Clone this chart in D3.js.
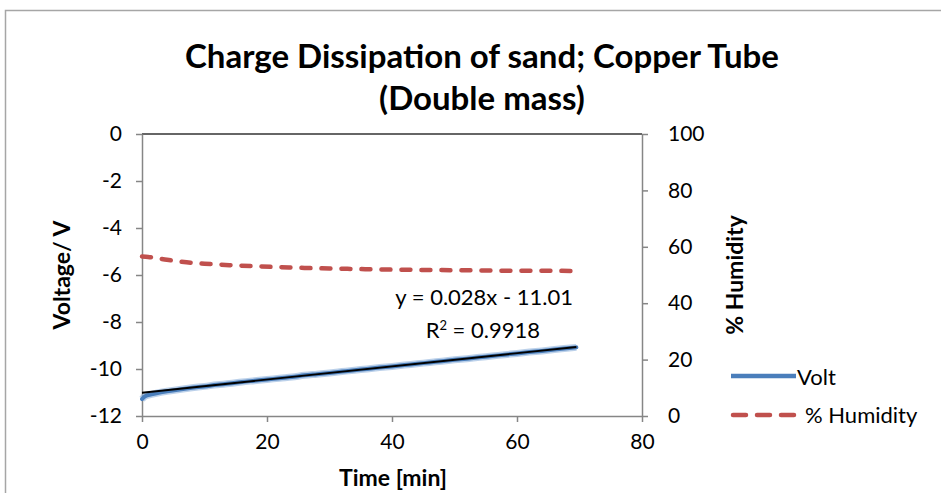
<!DOCTYPE html>
<html>
<head>
<meta charset="utf-8">
<script src="https://cdn.jsdelivr.net/npm/d3@7"></script>
<style>
  html, body { margin: 0; padding: 0; background: #fff; }
  svg { display: block; font-family: Lato, "Open Sans", sans-serif; }
</style>
</head>
<body>
<svg id="chart" width="941" height="493"></svg>
<script>
// Time axis (minutes)
const voltTime = [0, 0.5, 1.5, 2.5, 4, 6, 8, 10, 12, 14, 16, 18, 20, 22, 24, 26, 28, 30, 32, 34, 36, 38, 40, 42, 44, 46, 48, 50, 52, 54, 56, 58, 60, 62, 64, 66, 68, 69.5];
// Measured voltage (V)
const voltValues = [-11.28, -11.16, -11.08, -11.02, -10.95, -10.87, -10.80, -10.74, -10.67, -10.62, -10.55, -10.50, -10.45, -10.39, -10.34, -10.27, -10.22, -10.17, -10.11, -10.05, -10.00, -9.94, -9.89, -9.83, -9.78, -9.72, -9.67, -9.61, -9.56, -9.50, -9.45, -9.39, -9.34, -9.28, -9.23, -9.17, -9.12, -9.08];
// Relative humidity (%)
const humTime = [0, 1, 2, 4, 6, 8, 10, 14, 18, 22, 26, 30, 35, 40, 45, 50, 55, 60, 65, 69.5];
const humValues = [56.6, 56.4, 56.1, 55.4, 54.8, 54.3, 54.0, 53.5, 53.1, 52.8, 52.5, 52.3, 52.1, 51.9, 51.8, 51.7, 51.6, 51.5, 51.5, 51.4];
// Linear trendline of the voltage series
const trendSlope = 0.028;
const trendIntercept = -11.01;
const trendRange = [0, 69.5];
// Tick labels
const xTicks = [0, 20, 40, 60, 80];
const yLeftTicks = [0, -2, -4, -6, -8, -10, -12];
const yRightTicks = [0, 20, 40, 60, 80, 100];

const svg = d3.select("#chart");
const plot = { left: 142, right: 642, top: 134, bottom: 416 };

const x = d3.scaleLinear().domain([0, 80]).range([plot.left, plot.right]);
const yL = d3.scaleLinear().domain([-12, 0]).range([plot.bottom, plot.top]);
const yR = d3.scaleLinear().domain([0, 100]).range([plot.bottom, plot.top]);

// Chart area frame
svg.append("path")
  .attr("d", "M5.5,493 L5.5,10.5 L941,10.5")
  .attr("fill", "none").attr("stroke", "#a6a6a6").attr("stroke-width", 1.5);

const axisColor = "#868686";
const tickFont = 21;

// Top border of the plot area
svg.append("line")
  .attr("x1", plot.left).attr("x2", plot.right)
  .attr("y1", plot.top).attr("y2", plot.top)
  .attr("stroke", "#333").attr("stroke-width", 1.5);

function styleAxis(g) {
  g.select(".domain").attr("stroke", axisColor).attr("stroke-width", 1.5);
  g.selectAll(".tick line").attr("stroke", axisColor).attr("stroke-width", 1.5);
  g.selectAll(".tick text").attr("fill", "#000").attr("font-size", tickFont)
    .attr("font-family", "Lato, 'Open Sans', sans-serif");
}

// Bottom axis
svg.append("g")
  .attr("transform", `translate(0,${plot.bottom})`)
  .call(d3.axisBottom(x).tickValues(xTicks).tickSize(6).tickSizeOuter(0).tickPadding(12))
  .call(styleAxis);

// Left axis
svg.append("g")
  .attr("transform", `translate(${plot.left},0)`)
  .call(d3.axisLeft(yL).tickValues(yLeftTicks).tickSize(6).tickSizeOuter(0).tickPadding(14)
    .tickFormat(d => d === 0 ? "0" : d3.format("d")(d).replace("−", "-")))
  .call(styleAxis);

// Right axis
svg.append("g")
  .attr("transform", `translate(${plot.right},0)`)
  .call(d3.axisRight(yR).tickValues(yRightTicks).tickSize(6).tickSizeOuter(0).tickPadding(20))
  .call(styleAxis);

// Humidity series (dashed, right axis)
const humData = humTime.map((t, i) => [t, humValues[i]]);
svg.append("path")
  .datum(humData)
  .attr("fill", "none")
  .attr("stroke", "#c0504d")
  .attr("stroke-width", 4.5)
  .attr("stroke-linecap", "round")
  .attr("stroke-dasharray", "9,11")
  .attr("d", d3.line().x(d => x(d[0])).y(d => yR(d[1])).curve(d3.curveMonotoneX));

// Voltage series (left axis)
const voltData = voltTime.map((t, i) => [t, voltValues[i]]);
const voltLine = d3.line().x(d => x(d[0])).y(d => yL(d[1])).curve(d3.curveMonotoneX);
svg.append("path")
  .datum(voltData)
  .attr("fill", "none")
  .attr("stroke", "#8fb3dc")
  .attr("stroke-width", 7)
  .attr("opacity", 0.6)
  .attr("d", voltLine);
svg.append("path")
  .datum(voltData)
  .attr("fill", "none")
  .attr("stroke", "#4a7ebb")
  .attr("stroke-width", 4)
  .attr("stroke-linecap", "round")
  .attr("d", voltLine);

// Trendline
svg.append("line")
  .attr("x1", x(trendRange[0])).attr("y1", yL(trendSlope * trendRange[0] + trendIntercept))
  .attr("x2", x(trendRange[1])).attr("y2", yL(trendSlope * trendRange[1] + trendIntercept))
  .attr("stroke", "#000").attr("stroke-width", 1.8);

// Trendline label
svg.append("text")
  .attr("x", 573).attr("y", 305).attr("text-anchor", "end")
  .attr("font-size", 22).text(`y = ${trendSlope}x - ${Math.abs(trendIntercept)}`);
const r2 = svg.append("text")
  .attr("x", 540).attr("y", 338).attr("text-anchor", "end")
  .attr("font-size", 22);
r2.append("tspan").text("R");
r2.append("tspan").attr("font-size", 13).attr("dy", -8).text("2");
r2.append("tspan").attr("dy", 8).text(" = 0.9918");

// Title
svg.append("text")
  .attr("x", 482).attr("y", 68).attr("text-anchor", "middle")
  .attr("font-size", 33).attr("font-weight", "bold")
  .text("Charge Dissipation of sand; Copper Tube");
svg.append("text")
  .attr("x", 482).attr("y", 110).attr("text-anchor", "middle")
  .attr("font-size", 33).attr("font-weight", "bold")
  .text("(Double mass)");

// Axis titles
svg.append("text")
  .attr("transform", `translate(70,${(plot.top + plot.bottom) / 2}) rotate(-90)`)
  .attr("text-anchor", "middle").attr("font-size", 23).attr("font-weight", "bold")
  .text("Voltage/ V");
svg.append("text")
  .attr("transform", `translate(743,${(plot.top + plot.bottom) / 2}) rotate(-90)`)
  .attr("text-anchor", "middle").attr("font-size", 23).attr("font-weight", "bold")
  .text("% Humidity");
svg.append("text")
  .attr("x", (plot.left + plot.right) / 2 + 1).attr("y", 486)
  .attr("text-anchor", "middle").attr("font-size", 23).attr("font-weight", "bold")
  .text("Time [min]");

// Legend
const legend = svg.append("g");
legend.append("line")
  .attr("x1", 731).attr("x2", 796).attr("y1", 376).attr("y2", 376)
  .attr("stroke", "#4a7ebb").attr("stroke-width", 4.5);
legend.append("text")
  .attr("x", 797).attr("y", 385).attr("font-size", 22).text("Volt");
legend.append("line")
  .attr("x1", 733).attr("x2", 794).attr("y1", 415).attr("y2", 415)
  .attr("stroke", "#c0504d").attr("stroke-width", 4.5)
  .attr("stroke-linecap", "round").attr("stroke-dasharray", "13,11");
legend.append("text")
  .attr("x", 805).attr("y", 423).attr("font-size", 22).text("% Humidity");
</script>
</body>
</html>
